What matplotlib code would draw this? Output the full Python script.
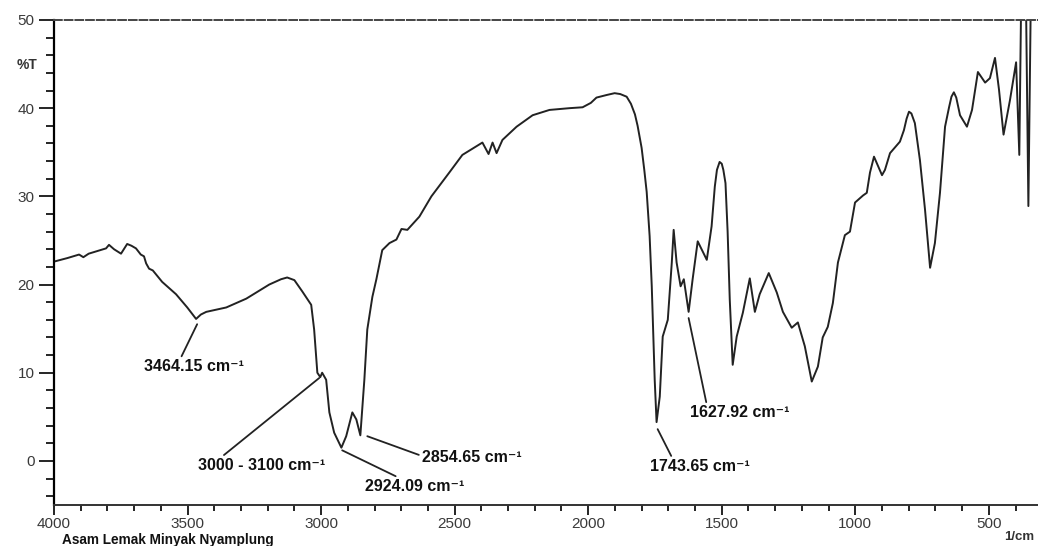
import numpy as np
import matplotlib
matplotlib.use("Agg")
import matplotlib.pyplot as plt
from matplotlib.ticker import MultipleLocator

plt.rcParams['font.family'] = ['Liberation Sans', 'DejaVu Sans']

# FTIR spectrum (wavenumber in 1/cm, %T)
wavenumber = [4000, 3950, 3906, 3890, 3870, 3805, 3794, 3775, 3749, 3726,
              3710, 3693, 3675, 3663, 3655, 3644, 3630, 3595, 3543, 3501,
              3468, 3450, 3430, 3355, 3280, 3194, 3150, 3127, 3100, 3070,
              3050, 3037, 3026, 3014, 3003, 2996, 2981, 2969, 2951, 2924,
              2906, 2883, 2868, 2853, 2838, 2827, 2808, 2793, 2771, 2744,
              2718, 2699, 2677, 2632, 2587, 2520, 2471, 2396, 2373, 2358,
              2343, 2321, 2268, 2208, 2145, 2070, 2021, 1990, 1969, 1930,
              1901, 1880, 1856, 1840, 1825, 1815, 1800, 1790, 1781, 1770,
              1762, 1751, 1744, 1732, 1721, 1702, 1687, 1680,
              1669, 1654, 1642, 1624, 1609, 1590, 1556, 1538, 1526, 1518,
              1508, 1500, 1494, 1486, 1478, 1470, 1459, 1444, 1421, 1395,
              1376, 1358, 1324,
              1294, 1271, 1238, 1215, 1189, 1163, 1140, 1122, 1103, 1084,
              1065, 1039, 1020, 1001, 971, 957, 945, 930, 900, 889,
              870, 833, 818, 808, 799, 790, 777, 758, 739, 720, 702, 683,
              664, 649, 640, 631, 622, 608, 582, 563, 541, 514, 496, 477,
              462, 445, 421, 398, 386, 376, 364, 352, 340, 316]
transmittance = [22.6, 23.0, 23.4, 23.1, 23.5, 24.1, 24.5, 24.0, 23.5, 24.6,
                 24.4, 24.1, 23.4, 23.2, 22.4, 21.8, 21.6, 20.3, 18.9, 17.4,
                 16.1, 16.6, 16.9, 17.4, 18.4, 20.0, 20.6, 20.8, 20.5, 19.2,
                 18.3, 17.7, 14.9, 10.0, 9.5, 10.0, 9.2, 5.5, 3.2, 1.5,
                 2.8, 5.5, 4.7, 2.9, 9.2, 14.9, 18.6, 20.6, 23.9, 24.7,
                 25.1, 26.3, 26.2, 27.7, 30.0, 32.7, 34.7, 36.1, 34.8, 36.1,
                 34.9, 36.4, 37.9, 39.2, 39.8, 40.0, 40.1, 40.6, 41.2, 41.5,
                 41.7, 41.6, 41.3, 40.5, 39.3, 38.0, 35.5, 33.0, 30.5, 25.5,
                 19.8, 9.2, 4.4, 7.3, 14.1, 16.0, 22.5, 26.2,
                 22.5, 19.8, 20.6, 16.9, 20.6, 24.9, 22.8, 26.6, 31.1, 33.0,
                 33.9, 33.7, 33.0, 31.5, 26.0, 18.3, 10.9, 14.1, 16.8, 20.7,
                 16.9, 18.9, 21.3,
                 19.1, 16.9, 15.1, 15.7, 13.0, 9.0, 10.7, 14.0, 15.2, 17.9,
                 22.5, 25.6, 26.0, 29.3, 30.1, 30.4, 32.7, 34.5, 32.4, 33.0,
                 34.9, 36.2, 37.5, 38.8, 39.6, 39.4, 38.3, 34.1, 28.5, 21.9, 24.7, 30.4,
                 37.9, 40.1, 41.3, 41.8, 41.2, 39.2, 37.9, 39.8, 44.1, 42.9, 43.4, 45.7,
                 42.1, 37.0, 40.9, 45.2, 34.7, 60.0, 60.0, 28.9, 60.0, 60.0]

# peak labels: text, peak position, label position, where the leader meets the text
peak_labels = ["3464.15 cm\u207b\u00b9", "3000 - 3100 cm\u207b\u00b9", "2924.09 cm\u207b\u00b9",
               "2854.65 cm\u207b\u00b9", "1743.65 cm\u207b\u00b9", "1627.92 cm\u207b\u00b9"]
peak_xy = [(3464, 15.5), (3007, 9.4), (2921, 1.2), (2827, 2.8), (1740, 3.6), (1624, 16.2)]
label_xy = [(3475, 10.7), (3224, -0.5), (2651, -2.9), (2437, 0.4), (1583, -0.6), (1433, 5.5)]
label_relpos = [(0.36, 1.0), (0.18, 1.0), (0.37, 1.0), (0.0, 0.6), (0.23, 1.0), (0.17, 1.0)]

fig = plt.figure(figsize=(10.38, 5.46), dpi=100)
ax = fig.add_axes([0.052, 0.0751, 0.948, 0.8883])

ax.plot(wavenumber, transmittance, color='#222222', lw=1.4,
        solid_joinstyle='round', solid_capstyle='round')

ax.set_xlim(4000, 316)
ax.set_ylim(-5, 50)

ax.xaxis.set_major_locator(MultipleLocator(500))
ax.xaxis.set_minor_locator(MultipleLocator(100))
ax.yaxis.set_major_locator(MultipleLocator(10))
ax.yaxis.set_minor_locator(MultipleLocator(2))
ax.tick_params(axis='y', which='major', direction='out', length=11, width=1.2,
               labelsize=11, labelcolor='#3a3a3a', pad=3)
ax.tick_params(axis='y', which='minor', direction='out', length=6, width=1.2)
ax.tick_params(axis='x', which='major', direction='out', length=7, width=1.2,
               labelsize=11, labelcolor='#3a3a3a', pad=2)
ax.tick_params(axis='x', which='minor', direction='out', length=4, width=1.2)

ax.spines['right'].set_visible(False)
ax.spines['top'].set_linestyle((0, (4, 1.5)))
ax.spines['top'].set_color('#444444')
ax.spines['top'].set_linewidth(1.4)
ax.spines['left'].set_linestyle((0, (4, 1)))
ax.spines['left'].set_linewidth(1.6)
ax.spines['bottom'].set_color('#333333')
ax.spines['bottom'].set_linewidth(1.4)

for txt, xy, xyt, rp in zip(peak_labels, peak_xy, label_xy, label_relpos):
    ax.annotate(txt, xy=xy, xytext=xyt, ha='center', va='center',
                fontsize=11.5, fontweight='bold', color='#111111',
                arrowprops=dict(arrowstyle='-', color='#222222', lw=1.3,
                                relpos=rp, shrinkA=0, shrinkB=0))

fig.text(17 / 1038, 1 - 65 / 546, "%T", fontsize=10, fontweight='bold',
         color='#333333', va='center', ha='left')
fig.text(62 / 1038, 1 - 540 / 546, "Asam Lemak Minyak Nyamplung", fontsize=9.8,
         fontweight='bold', color='#111111', va='center', ha='left')
fig.text(1004 / 1038, 1 - 537 / 546, "1/cm", fontsize=9.5, fontweight='bold',
         color='#333333', va='center', ha='left')

fig.savefig('out.png', dpi=100)
